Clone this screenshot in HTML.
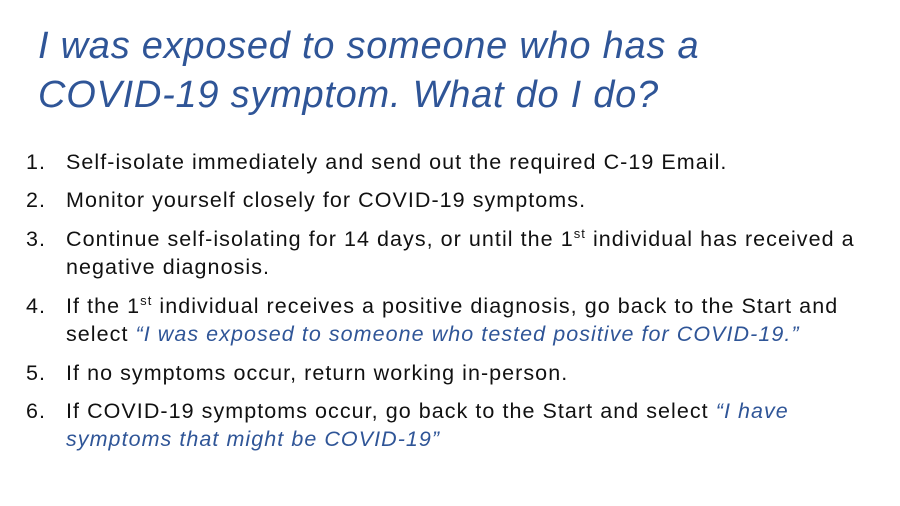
<!DOCTYPE html>
<html><head><meta charset="utf-8"><style>
body{margin:0;width:900px;height:506px;background:#fff;overflow:hidden;font-family:"Liberation Sans",sans-serif;}
.title{position:absolute;left:38px;top:22px;color:#2F5597;font-style:italic;font-size:38px;line-height:49px;white-space:nowrap;letter-spacing:0.75px;}
.item{position:absolute;left:0;font-size:21.5px;color:#111;white-space:nowrap;line-height:28px;letter-spacing:1.05px;}
.num{position:absolute;left:26px;}
.txt{position:absolute;left:66px;}
.q{color:#2F5597;font-style:italic;}
sup{font-size:13px;line-height:0;}
</style></head><body>
<div class="title">I was exposed to someone who has a<br>COVID-19 symptom. What do I do?</div>
<div class="item" style="top:148px"><span class="num">1.</span><span class="txt">Self-isolate immediately and send out the required C-19 Email.</span></div>
<div class="item" style="top:186px"><span class="num">2.</span><span class="txt">Monitor yourself closely for COVID-19 symptoms.</span></div>
<div class="item" style="top:225px"><span class="num">3.</span><span class="txt">Continue self-isolating for 14 days, or until the 1<sup>st</sup> individual has received a<br>negative diagnosis.</span></div>
<div class="item" style="top:292px"><span class="num">4.</span><span class="txt">If the 1<sup>st</sup> individual receives a positive diagnosis, go back to the Start and<br>select <span class="q">“I was exposed to someone who tested positive for COVID-19.”</span></span></div>
<div class="item" style="top:359px"><span class="num">5.</span><span class="txt">If no symptoms occur, return working in-person.</span></div>
<div class="item" style="top:397px"><span class="num">6.</span><span class="txt">If COVID-19 symptoms occur, go back to the Start and select <span class="q">“I have<br>symptoms that might be COVID-19”</span></span></div>
</body></html>
